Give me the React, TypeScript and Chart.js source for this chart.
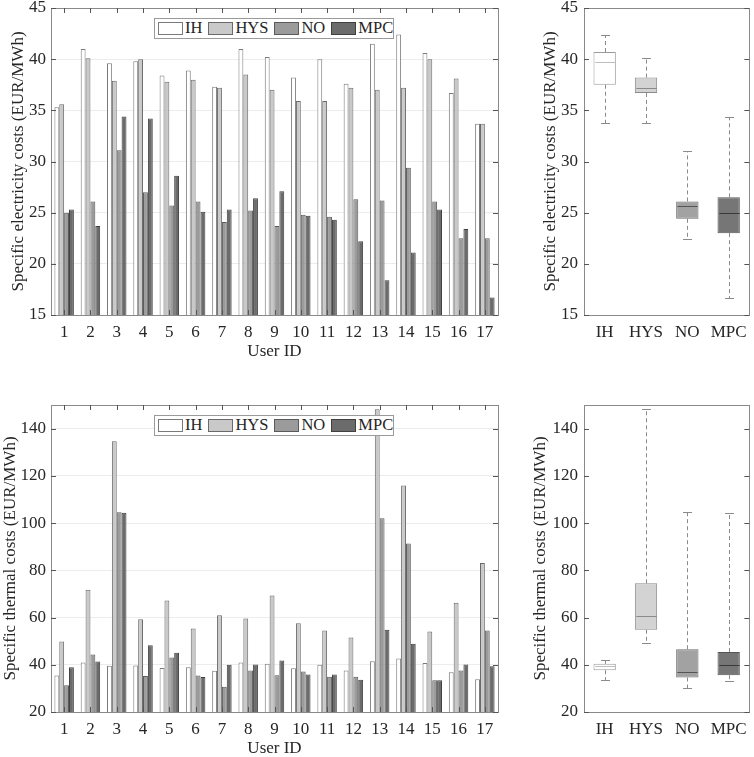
import { useEffect, useRef } from "react";
import { Chart, registerables } from "chart.js";
import type { Plugin } from "chart.js";

Chart.register(...registerables);

const userIds = ["1", "2", "3", "4", "5", "6", "7", "8", "9", "10", "11", "12", "13", "14", "15", "16", "17"];
const methods = ["IH", "HYS", "NO", "MPC"];

// specific electricity costs per user (EUR/MWh)
const elecIH = [35.3, 41.0, 39.6, 39.8, 38.4, 38.9, 37.3, 41.0, 40.2, 38.2, 40.0, 37.6, 41.5, 42.4, 40.6, 36.7, 33.7];
const elecHYS = [35.6, 40.1, 37.9, 40.0, 37.8, 38.0, 37.2, 38.5, 37.0, 35.9, 35.9, 37.2, 37.0, 37.2, 40.0, 38.1, 33.7];
const elecNO = [25.0, 26.1, 31.1, 27.0, 25.7, 26.1, 24.1, 25.2, 23.7, 24.8, 24.6, 26.3, 26.2, 29.4, 26.1, 22.5, 22.5];
const elecMPC = [25.3, 23.7, 34.4, 34.2, 28.6, 25.1, 25.3, 26.4, 27.1, 24.7, 24.3, 22.2, 18.4, 21.1, 25.3, 23.4, 16.7];

// specific thermal costs per user (EUR/MWh)
const thermIH = [35.5, 41.0, 39.6, 39.7, 38.6, 39.0, 37.5, 41.0, 40.4, 38.5, 40.0, 37.6, 41.5, 42.7, 40.7, 36.8, 33.9];
const thermHYS = [49.9, 71.8, 134.7, 59.3, 67.2, 55.4, 61.0, 59.6, 69.3, 57.6, 54.5, 51.5, 148.2, 115.9, 54.1, 66.3, 83.1];
const thermNO = [31.3, 44.4, 104.6, 35.2, 43.1, 35.5, 30.7, 37.6, 35.6, 37.2, 34.9, 34.9, 102.0, 91.3, 33.4, 37.6, 54.5];
const thermMPC = [38.9, 41.4, 104.4, 48.3, 45.1, 34.8, 40.0, 40.1, 41.8, 35.9, 35.9, 33.7, 54.8, 48.9, 33.4, 40.1, 39.4];

// box plot statistics per method
const elecMin = [33.8, 33.8, 22.4, 16.7];
const elecQ1 = [37.5, 36.7, 24.4, 23.0];
const elecMedian = [39.7, 37.2, 25.7, 25.0];
const elecQ3 = [40.7, 38.2, 26.1, 26.5];
const elecMax = [42.4, 40.1, 31.0, 34.3];

const thermMin = [33.4, 49.3, 30.3, 33.0];
const thermQ1 = [37.7, 54.8, 34.6, 35.6];
const thermMedian = [39.6, 60.7, 36.8, 39.7];
const thermQ3 = [40.4, 74.5, 46.6, 45.4];
const thermMax = [42.0, 148.2, 104.5, 104.4];

const elecTicks = [15, 20, 25, 30, 35, 40, 45];
const thermTicks = [20, 40, 60, 80, 100, 120, 140];

const serif = "'Liberation Serif', 'Times New Roman', Times, serif";
const textColor = "#262626";
const frameColor = "#8a8a8a";
const barFill = ["#ffffff", "#c9c9c9", "#9b9b9b", "#6b6b6b"];
const barEdge = ["#7a7a7a", "#6a6a6a", "#5a5a5a", "#404040"];
const boxFill = ["#ffffff", "#d3d3d3", "#a2a2a2", "#767676"];
const boxEdge = ["#9a9a9a", "#8a8a8a", "#6a6a6a", "#555555"];
const medianColor = ["#bdbdbd", "#8a8a8a", "#555555", "#3a3a3a"];

function framePlugin(xTicks: boolean): Plugin {
  return {
    id: "frame",
    afterDraw(chart) {
      const { ctx, chartArea, scales } = chart;
      const { left, right, top, bottom } = chartArea;
      const len = 5;
      ctx.save();
      ctx.strokeStyle = frameColor;
      ctx.lineWidth = 1;
      ctx.strokeRect(Math.round(left) + 0.5, Math.round(top) + 0.5, Math.round(right - left), Math.round(bottom - top));
      ctx.strokeStyle = "#555";
      ctx.beginPath();
      scales.y.ticks.forEach((t) => {
        const y = Math.round(scales.y.getPixelForValue(t.value)) + 0.5;
        ctx.moveTo(left, y);
        ctx.lineTo(left + len, y);
        ctx.moveTo(right, y);
        ctx.lineTo(right - len, y);
      });
      if (xTicks) {
        scales.x.ticks.forEach((_, i) => {
          const x = Math.round(scales.x.getPixelForTick(i)) + 0.5;
          ctx.moveTo(x, top);
          ctx.lineTo(x, top + len);
          ctx.moveTo(x, bottom);
          ctx.lineTo(x, bottom - len);
        });
      }
      ctx.stroke();
      ctx.restore();
    }
  };
}

function whiskerPlugin(mins: number[], medians: number[], maxs: number[], q1s: number[], q3s: number[]): Plugin {
  return {
    id: "whiskers",
    afterDatasetsDraw(chart) {
      const { ctx, scales } = chart;
      const meta = chart.getDatasetMeta(0);
      ctx.save();
      meta.data.forEach((el, i) => {
        const bar = el as unknown as { x: number; width: number };
        const x = Math.round(bar.x) + 0.5;
        const half = bar.width / 2;
        const cap = bar.width * 0.2;
        const yMin = Math.round(scales.y.getPixelForValue(mins[i])) + 0.5;
        const yMax = Math.round(scales.y.getPixelForValue(maxs[i])) + 0.5;
        const yQ1 = scales.y.getPixelForValue(q1s[i]);
        const yQ3 = scales.y.getPixelForValue(q3s[i]);
        const yMed = Math.round(scales.y.getPixelForValue(medians[i])) + 0.5;

        ctx.strokeStyle = "#8a8a8a";
        ctx.lineWidth = 1;
        ctx.setLineDash([4, 3]);
        ctx.beginPath();
        ctx.moveTo(x, yQ3);
        ctx.lineTo(x, yMax);
        ctx.moveTo(x, yQ1);
        ctx.lineTo(x, yMin);
        ctx.stroke();

        ctx.setLineDash([]);
        ctx.beginPath();
        ctx.moveTo(x - cap, yMax);
        ctx.lineTo(x + cap, yMax);
        ctx.moveTo(x - cap, yMin);
        ctx.lineTo(x + cap, yMin);
        ctx.stroke();

        ctx.strokeStyle = medianColor[i];
        ctx.beginPath();
        ctx.moveTo(x - half + 1, yMed);
        ctx.lineTo(x + half - 1, yMed);
        ctx.stroke();
      });
      ctx.restore();
    }
  };
}

function Legend({ top }: { top: number }) {
  return (
    <div
      style={{
        position: "absolute",
        left: 154,
        top,
        width: 240,
        height: 21,
        boxSizing: "border-box",
        border: "1px solid #9a9a9a",
        background: "#fff",
        display: "flex",
        alignItems: "center",
        paddingLeft: 3,
        fontFamily: serif,
        fontSize: 16.5,
        lineHeight: 1,
        color: textColor,
        whiteSpace: "nowrap"
      }}
    >
      {methods.map((m, k) => (
        <div key={m} style={{ display: "flex", alignItems: "center", marginRight: k === methods.length - 1 ? 0 : 6 }}>
          <span
            style={{
              display: "inline-block",
              width: 25,
              height: 13,
              boxSizing: "border-box",
              border: `1px solid ${barEdge[k]}`,
              background: barFill[k]
            }}
          />
          <span style={{ marginLeft: 2 }}>{m}</span>
        </div>
      ))}
    </div>
  );
}

function BarPanel({
  top,
  series,
  yMin,
  yMax,
  yTicks,
  yTitle,
  titlePad
}: {
  top: number;
  series: number[][];
  yMin: number;
  yMax: number;
  yTicks: number[];
  yTitle: string;
  titlePad: number;
}) {
  const canvasRef = useRef<HTMLCanvasElement | null>(null);

  useEffect(() => {
    const canvas = canvasRef.current;
    if (!canvas) return;
    const chart = new Chart(canvas, {
      type: "bar",
      data: {
        labels: userIds,
        datasets: methods.map((m, k) => ({
          label: m,
          data: series[k],
          backgroundColor: barFill[k],
          borderColor: barEdge[k],
          borderWidth: 1,
          borderSkipped: false,
          categoryPercentage: 0.74,
          barPercentage: 1
        }))
      },
      options: {
        responsive: false,
        animation: false,
        events: [],
        layout: { padding: { top: 8, right: 12, left: 0, bottom: 0 } },
        plugins: { legend: { display: false }, tooltip: { enabled: false } },
        scales: {
          x: {
            grid: { display: false, drawTicks: false },
            border: { display: false },
            ticks: { color: textColor, font: { family: serif, size: 17 }, padding: 7, maxRotation: 0, autoSkip: false },
            title: {
              display: true,
              text: "User ID",
              color: textColor,
              font: { family: serif, size: 17, lineHeight: 1 },
              padding: { top: 0, bottom: 0 }
            },
            afterFit: (s) => {
              s.height = 45;
            }
          },
          y: {
            min: yMin,
            max: yMax,
            afterBuildTicks: (s) => {
              s.ticks = yTicks.map((v) => ({ value: v }));
            },
            grid: { color: "#ececec", drawTicks: false },
            border: { display: false },
            ticks: { color: textColor, font: { family: serif, size: 17, lineHeight: 1 }, padding: 5 },
            title: {
              display: true,
              text: yTitle,
              color: textColor,
              font: { family: serif, size: 17, lineHeight: 1.2 },
              padding: { top: titlePad, bottom: 0 }
            },
            afterFit: (s) => {
              s.width = 51;
              s.paddingTop = 0;
              s.paddingBottom = 0;
            }
          }
        }
      },
      plugins: [framePlugin(true)]
    });
    return () => chart.destroy();
  }, [series, yMin, yMax, yTicks, yTitle, titlePad]);

  return (
    <div style={{ position: "absolute", left: 0, top, width: 510, height: 360 }}>
      <canvas ref={canvasRef} width={510} height={360} />
    </div>
  );
}

function BoxPanel({
  top,
  mins,
  q1s,
  medians,
  q3s,
  maxs,
  yMin,
  yMax,
  yTicks,
  yTitle,
  titlePad
}: {
  top: number;
  mins: number[];
  q1s: number[];
  medians: number[];
  q3s: number[];
  maxs: number[];
  yMin: number;
  yMax: number;
  yTicks: number[];
  yTitle: string;
  titlePad: number;
}) {
  const canvasRef = useRef<HTMLCanvasElement | null>(null);

  useEffect(() => {
    const canvas = canvasRef.current;
    if (!canvas) return;
    const chart = new Chart(canvas, {
      type: "bar",
      data: {
        labels: methods,
        datasets: [
          {
            label: "box",
            data: q1s.map((q, i) => [q, q3s[i]] as [number, number]),
            backgroundColor: boxFill,
            borderColor: boxEdge,
            borderWidth: 1,
            borderSkipped: false,
            categoryPercentage: 1,
            barPercentage: 0.54
          }
        ]
      },
      options: {
        responsive: false,
        animation: false,
        events: [],
        layout: { padding: { top: 8, right: 3, left: 0, bottom: 0 } },
        plugins: { legend: { display: false }, tooltip: { enabled: false } },
        scales: {
          x: {
            grid: { display: false, drawTicks: false },
            border: { display: false },
            ticks: { color: textColor, font: { family: serif, size: 17 }, padding: 7, maxRotation: 0, autoSkip: false },
            afterFit: (s) => {
              s.height = 45;
            }
          },
          y: {
            min: yMin,
            max: yMax,
            afterBuildTicks: (s) => {
              s.ticks = yTicks.map((v) => ({ value: v }));
            },
            grid: { display: false, drawTicks: false },
            border: { display: false },
            ticks: { color: textColor, font: { family: serif, size: 17, lineHeight: 1 }, padding: 6 },
            title: {
              display: true,
              text: yTitle,
              color: textColor,
              font: { family: serif, size: 17, lineHeight: 1.2 },
              padding: { top: titlePad, bottom: 0 }
            },
            afterFit: (s) => {
              s.width = 64;
              s.paddingTop = 0;
              s.paddingBottom = 0;
            }
          }
        }
      },
      plugins: [whiskerPlugin(mins, medians, maxs, q1s, q3s), framePlugin(false)]
    });
    return () => chart.destroy();
  }, [mins, q1s, medians, q3s, maxs, yMin, yMax, yTicks, yTitle, titlePad]);

  return (
    <div style={{ position: "absolute", left: 520, top, width: 234, height: 360 }}>
      <canvas ref={canvasRef} width={234} height={360} />
    </div>
  );
}

const elecSeries = [elecIH, elecHYS, elecNO, elecMPC];
const thermSeries = [thermIH, thermHYS, thermNO, thermMPC];

export default function App() {
  return (
    <div style={{ position: "absolute", left: 0, top: 0, width: 754, height: 757, background: "#fff", overflow: "hidden" }}>
      <BarPanel
        top={0}
        series={elecSeries}
        yMin={15}
        yMax={45}
        yTicks={elecTicks}
        yTitle="Specific electricity costs (EUR/MWh)"
        titlePad={8}
      />
      <Legend top={18} />
      <BoxPanel
        top={0}
        mins={elecMin}
        q1s={elecQ1}
        medians={elecMedian}
        q3s={elecQ3}
        maxs={elecMax}
        yMin={15}
        yMax={45}
        yTicks={elecTicks}
        yTitle="Specific electricity costs (EUR/MWh)"
        titlePad={20}
      />
      <BarPanel
        top={397}
        series={thermSeries}
        yMin={20}
        yMax={150}
        yTicks={thermTicks}
        yTitle="Specific thermal costs (EUR/MWh)"
        titlePad={0}
      />
      <Legend top={415} />
      <BoxPanel
        top={397}
        mins={thermMin}
        q1s={thermQ1}
        medians={thermMedian}
        q3s={thermQ3}
        maxs={thermMax}
        yMin={20}
        yMax={150}
        yTicks={thermTicks}
        yTitle="Specific thermal costs (EUR/MWh)"
        titlePad={10}
      />
    </div>
  );
}
